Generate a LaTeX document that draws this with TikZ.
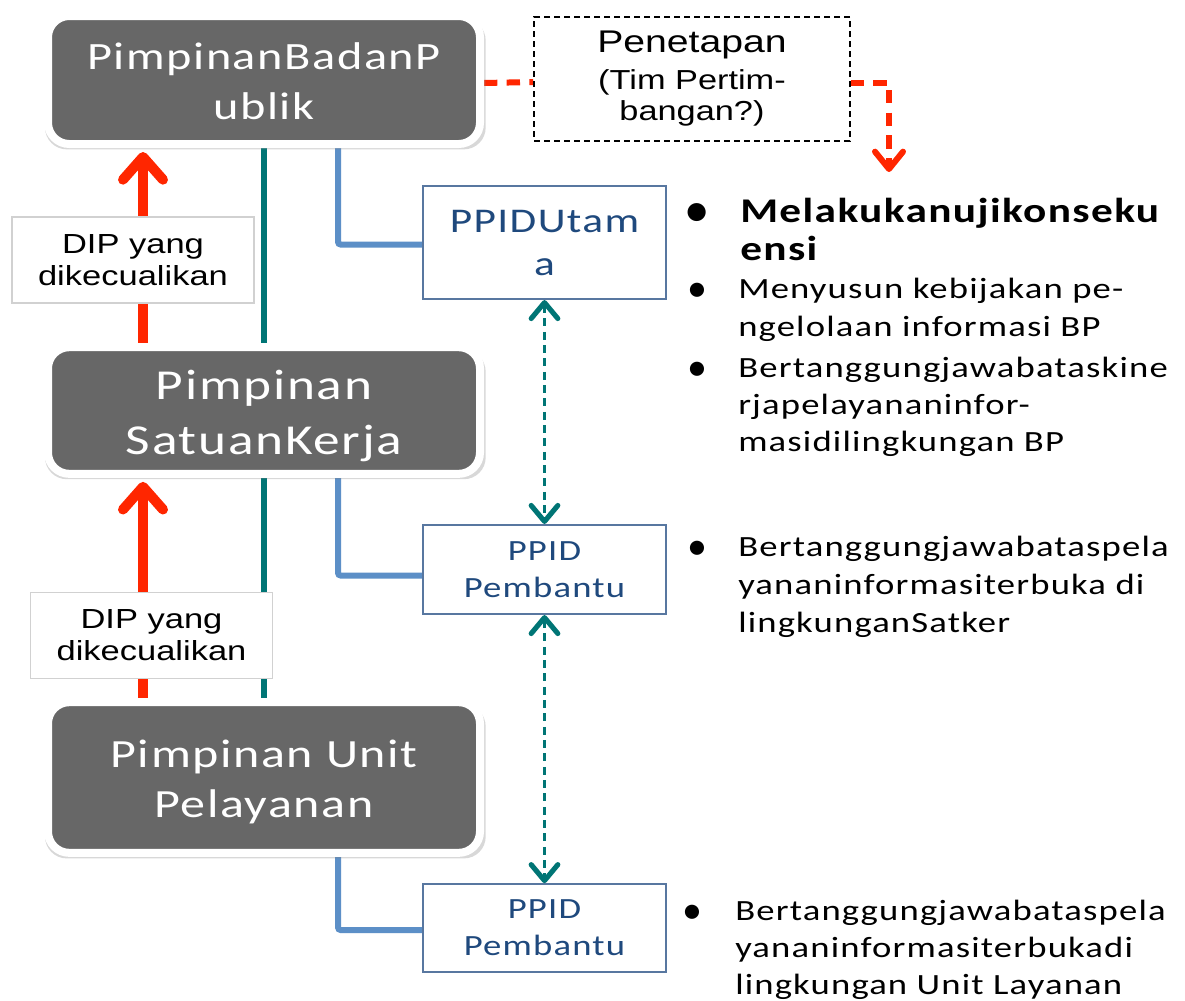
\documentclass[tikz,border=0pt]{standalone}
\usepackage{fontspec}
\usetikzlibrary{arrows.meta,shadows,calc}
\newfontfamily\calib[FakeStretch=1.25,LetterSpace=4]{Carlito}
\newfontfamily\calibdot{Carlito}
\newfontfamily\arialw[FakeStretch=1.25]{Liberation Sans}
\definecolor{boxgray}{HTML}{676767}
\definecolor{alertred}{HTML}{FF2600}
\definecolor{tealc}{HTML}{007575}
\definecolor{bluec}{HTML}{5C8FC7}
\definecolor{ppidedge}{HTML}{5877A0}
\definecolor{ppidtext}{HTML}{1F497D}
\pgfdeclarelayer{back}
\pgfdeclarelayer{bg}
\pgfsetlayers{back,bg,main}
% centred lines, set a little lower than the geometric centre
\newcommand\lowlines[2]{\raisebox{-#1}[\height][\depth]{\begin{tabular}{@{}c@{}}#2\end{tabular}}}
\tikzset{
  leadbox/.style={rounded corners=16pt, fill=boxgray, draw=white, line width=6pt,
    inner sep=0pt, minimum width=324pt, align=center, text=white,
    drop shadow={shadow xshift=1pt, shadow yshift=-3pt, shadow scale=1.02, opacity=0.3}},
  ppidbox/.style={draw=ppidedge, line width=1.3pt, fill=white, text=ppidtext,
    minimum width=182pt, inner sep=0pt, align=center},
  diplabel/.style={draw=black!18, line width=0.8pt, fill=white, minimum width=181.5pt,
    minimum height=64.5pt, inner sep=0pt, align=center,
    font=\arialw\fontsize{20.7}{24}\selectfont},
  redarrow/.style={draw=alertred, line width=7.5pt,
    -{Straight Barb[length=17pt,width=30pt,round]}},
  reddash/.style={draw=alertred, line width=4.5pt, dash pattern=on 10pt off 7pt},
  tealline/.style={draw=tealc, line width=4.5pt},
  blueline/.style={draw=bluec, line width=4.5pt, rounded corners=2pt},
  tealdash/.style={draw=tealc, line width=1.8pt, dash pattern=on 6pt off 4pt,
    {Straight Barb[line width=3.8pt,length=12pt,width=20pt,round]}-{Straight Barb[line width=3.8pt,length=12pt,width=20pt,round]}},
  bulletdot/.style={anchor=base, inner sep=0pt, font=\calibdot\fontsize{30}{30}\selectfont},
  bullettext/.style={anchor=base west, inner sep=0pt},
}
\begin{document}
\begin{tikzpicture}[x=0.75pt,y=-0.75pt]
\useasboundingbox (0,0) rectangle (1185,1000);
\begin{pgfonlayer}{back}
  \fill[white] (0,0) rectangle (1185,1000);
\end{pgfonlayer}

% leadership boxes
\node[leadbox, minimum height=96pt, font=\calib\fontsize{29}{37.5}\selectfont]
  (lead1) at (264,80) {\lowlines{3.5pt}{PimpinanBadanP\\ublik}};
\node[leadbox, minimum height=95pt, font=\calib\fontsize{32}{41}\selectfont]
  (lead2) at (264,410.5) {\lowlines{4pt}{Pimpinan\\SatuanKerja}};
\node[leadbox, minimum height=113pt, font=\calib\fontsize{30}{37.5}\selectfont]
  (lead3) at (264,777.5) {\lowlines{4pt}{Pimpinan Unit\\Pelayanan}};

% PPID boxes
\node[ppidbox, minimum height=85pt, font=\calib\fontsize{26}{32}\selectfont]
  (ppid1) at (544.5,242.5) {\lowlines{2pt}{PPIDUtam\\a}};
\node[ppidbox, minimum height=67pt, font=\calib\fontsize{22}{28}\selectfont]
  (ppid2) at (544.5,569.5) {PPID\\Pembantu};
\node[ppidbox, minimum height=66pt, font=\calib\fontsize{22}{28}\selectfont]
  (ppid3) at (544.5,928) {PPID\\Pembantu};

% labels on the escalation arrows
\node[diplabel] (dip1) at (133,260) {DIP yang\\dikecualikan};
\node[diplabel] (dip2) at (151.5,635.5) {DIP yang\\dikecualikan};

% consideration team box
\node[draw=black, line width=1.1pt, dash pattern=on 4.5pt off 3pt, fill=white,
  minimum width=237pt, minimum height=93pt, inner sep=0pt,
  font=\arialw\fontsize{20.6}{23.5}\selectfont]
  (pen) at (692,79) {\lowlines{1pt}{{\fontsize{23.5}{26}\selectfont Penetapan}\\[4pt](Tim Pertim-\\bangan?)}};

% column positions of the connectors
\coordinate (redcol) at (143,0);
\coordinate (tealcol) at (263.5,0);
\coordinate (bluecol) at (338,0);
\coordinate (redend) at (889,172);

\begin{pgfonlayer}{bg}
  \draw[tealline] (lead1.south -| tealcol) -- (lead3.north -| tealcol);
  \draw[redarrow] (lead2.north -| redcol) -- ($(lead1.south -| redcol)+(0,4)$);
  \draw[redarrow] (lead3.north -| redcol) -- ($(lead2.south -| redcol)+(0,4)$);
  \draw[blueline] (lead1.south -| bluecol) |- ($(ppid1.west)+(0,2)$);
  \draw[blueline] (lead2.south -| bluecol) |- ($(ppid2.west)+(0,6)$);
  \draw[blueline] (lead3.south -| bluecol) |- ($(ppid3.west)+(0,2)$);
  \draw[reddash] ($(lead1.east)+(0,3)$) -- ($(pen.west)+(0,3)$);
\end{pgfonlayer}
\draw[reddash, -{Straight Barb[line width=4.5pt,length=13pt,width=21pt,round]}]
  ($(pen.east)+(0,4)$) -| (redend);
\draw[tealdash] (ppid1.south) -- (ppid2.north);
\draw[tealdash] (ppid2.south) -- (ppid3.north);

% tasks of the main PPID
\node[bulletdot, font=\calibdot\bfseries\fontsize{32}{32}\selectfont] (d1) at (697,224) {•};
\node[bullettext, font=\calib\bfseries\fontsize{26}{28.5}\selectfont] (t1) at (740,222)
  {\begin{tabular}[t]{@{}l@{}}Melakukanujikonseku\\ensi\end{tabular}};
\node[bulletdot] (d2) at (697,301) {•};
\node[bullettext, font=\calib\fontsize{22}{29}\selectfont] (t2) at (738,298)
  {\begin{tabular}[t]{@{}l@{}}Menyusun kebijakan pe-\\ngelolaan informasi BP\end{tabular}};
\node[bulletdot] (d3) at (697,380) {•};
\node[bullettext, font=\calib\fontsize{22}{28}\selectfont] (t3) at (738,377)
  {\begin{tabular}[t]{@{}l@{}}Bertanggungjawabataskine\\rjapelayananinfor-\\masidilingkungan BP\end{tabular}};

% tasks of the assisting PPIDs
\node[bulletdot] (d4) at (697,559) {•};
\node[bullettext, font=\calib\fontsize{22}{28.5}\selectfont] (t4) at (738,556)
  {\begin{tabular}[t]{@{}l@{}}Bertanggungjawabataspela\\yananinformasiterbuka di\\lingkunganSatker\end{tabular}};
\node[bulletdot] (d5) at (692,923) {•};
\node[bullettext, font=\calib\fontsize{22}{28}\selectfont] (t5) at (735,920)
  {\begin{tabular}[t]{@{}l@{}}Bertanggungjawabataspela\\yananinformasiterbukadi\\lingkungan Unit Layanan\end{tabular}};
\end{tikzpicture}
\end{document}
